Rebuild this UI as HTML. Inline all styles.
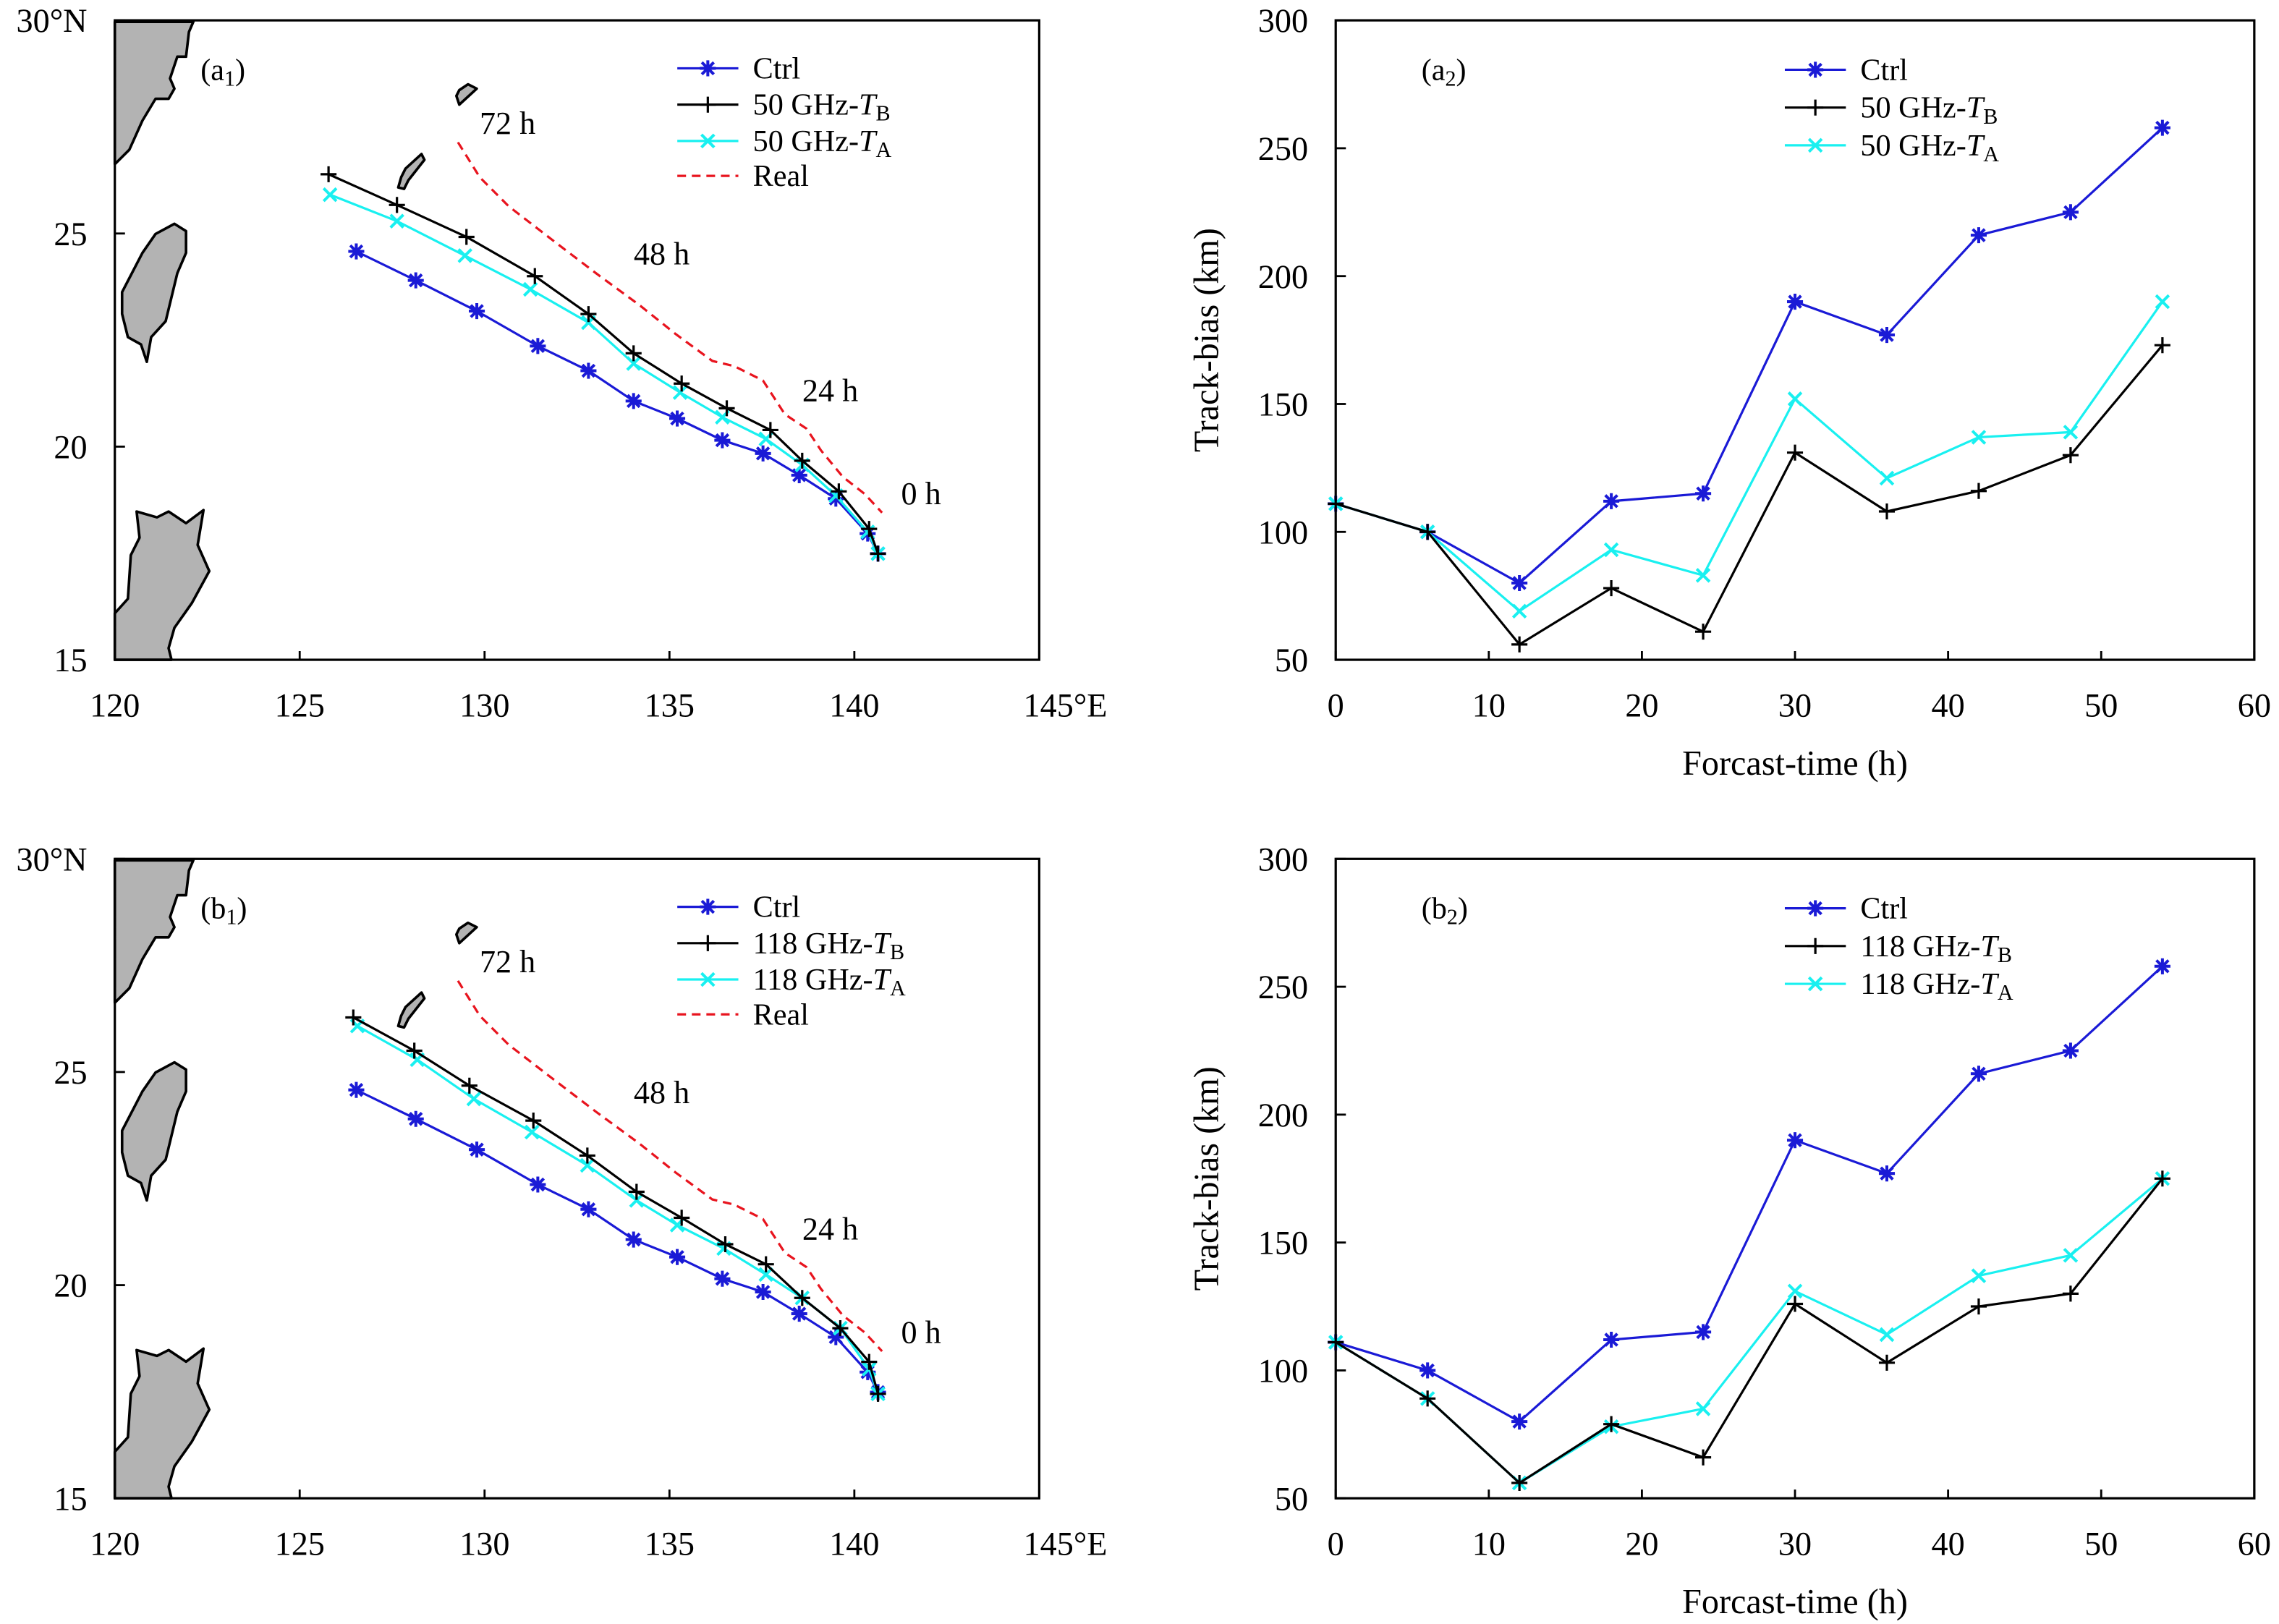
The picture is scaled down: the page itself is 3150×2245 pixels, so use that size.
<!DOCTYPE html>
<html><head><meta charset="utf-8"><style>
html,body{margin:0;padding:0;background:#fff}
svg{display:block}
text{font-family:"Liberation Serif",serif;fill:#000}
</style></head><body>
<svg id="fig" width="3150" height="2245" viewBox="0 0 1568 1117.5" xmlns="http://www.w3.org/2000/svg"></svg>
<script>
// ---- data ----
const hours=[0,6,12,18,24,30,36,42,48,54];
const biasCtrl=[111,100,80,112,115,190,177,216,225,258];
const bias50TB=[111,100,56,78,61,131,108,116,130,173];
const bias50TA=[111,100,69,93,83,152,121,137,139,190];
const bias118TB=[111,89,56,79,66,126,103,125,130,175];
const bias118TA=[111,89,56,78,85,131,114,137,145,175];
const biasTicks=[50,100,150,200,250,300];
const hourTicks=[0,10,20,30,40,50,60];
const lonTicks=["120","125","130","135","140","145°E"];
const lonTickVals=[120,125,130,135,140,145];
const latTickVals=[15,20,25,30];
const latTickLabels=["15","20","25","30°N"];
const ctrlLon=[126.53,128.14,129.79,131.44,132.81,134.03,135.21,136.43,137.53,138.51,139.50,140.36,140.64];
const ctrlLat=[24.58,23.90,23.18,22.36,21.78,21.07,20.66,20.15,19.84,19.33,18.78,17.96,17.49];
const tb50Lon=[125.78,127.63,129.51,131.36,132.81,134.03,135.33,136.55,137.73,138.59,139.58,140.40,140.64];
const tb50Lat=[26.39,25.67,24.92,24.00,23.11,22.19,21.48,20.90,20.39,19.67,18.95,18.07,17.49];
const ta50Lon=[125.82,127.63,129.47,131.24,132.81,134.03,135.29,136.43,137.61,138.59,139.50,140.36,140.64];
const ta50Lat=[25.91,25.29,24.48,23.69,22.91,21.95,21.27,20.69,20.18,19.57,18.85,18.00,17.49];
const realLon=[129.28,129.87,130.65,131.83,133.01,134.19,135.17,136.16,136.75,137.53,138.12,138.71,139.10,139.69,140.28,140.75];
const realLat=[27.14,26.32,25.64,24.85,24.07,23.32,22.64,22.01,21.89,21.55,20.76,20.42,19.91,19.29,18.89,18.45];
const tb118Lon=[126.45,128.10,129.59,131.32,132.78,134.11,135.33,136.51,137.61,138.59,139.62,140.40,140.64];
const tb118Lat=[26.28,25.50,24.68,23.86,23.04,22.19,21.58,20.96,20.49,19.70,18.99,18.20,17.45];
const ta118Lon=[126.56,128.18,129.71,131.28,132.78,134.11,135.21,136.47,137.61,138.59,139.62,140.40,140.64];
const ta118Lat=[26.08,25.29,24.37,23.59,22.81,21.99,21.41,20.86,20.25,19.70,18.99,18.03,17.45];

const BLUE="#1a1ad6",CYAN="#19f0f0",RED="#e8141e";
const NS="http://www.w3.org/2000/svg";
const svg=document.getElementById('fig');
function mk(tag,attrs,parent){const e=document.createElementNS(NS,tag);for(const k in attrs)e.setAttribute(k,attrs[k]);(parent||svg).appendChild(e);return e;}
function txt(x,y,s,anchor,size,parent){const t=mk('text',{x:x,y:y,'text-anchor':anchor||'start','font-size':size||23},parent);t.textContent=s;return t;}

function marker(g,type,x,y,color){
  const r=5.5;let d;
  if(type==='plus')d=`M${x-r} ${y}H${x+r}M${x} ${y-r}V${y+r}`;
  else if(type==='x')d=`M${x-r*.8} ${y-r*.8}L${x+r*.8} ${y+r*.8}M${x-r*.8} ${y+r*.8}L${x+r*.8} ${y-r*.8}`;
  else d=`M${x-r} ${y}H${x+r}M${x} ${y-r}V${y+r}M${x-r*.75} ${y-r*.75}L${x+r*.75} ${y+r*.75}M${x-r*.75} ${y+r*.75}L${x+r*.75} ${y-r*.75}`;
  const p=mk('path',{d:d,stroke:color,'stroke-width':type==='plus'?1.6:2,fill:'none'},g);
  
  
}
function series(g,xs,ys,fx,fy,color,type,name,dash){
  const s=mk('g',{},g);
  
  
  const pts=xs.map((v,i)=>fx(v).toFixed(2)+','+fy(ys[i]).toFixed(2)).join(' ');
  const l=mk('polyline',{points:pts,fill:'none',stroke:color,'stroke-width':1.6},s);
  if(dash)l.setAttribute('stroke-dasharray',dash);
  if(type)xs.forEach((v,i)=>marker(s,type,fx(v),fy(ys[i]),color));
}
function legendEntry(g,x,y,color,type,label,sub,dash){
  const e=mk('g',{},g);
  
  
  const l=mk('line',{x1:x,y1:y,x2:x+42,y2:y,stroke:color,'stroke-width':1.6},e);
  if(dash)l.setAttribute('stroke-dasharray',dash);
  if(type)marker(e,type,x+21,y,color);
  const t=txt(x+52,y+7,'',null,21,e);
  t.appendChild(document.createTextNode(label));
  if(sub){const it=mk('tspan',{'font-style':'italic'},t);it.textContent=sub[0];const sb=mk('tspan',{'font-size':15,dy:4},t);sb.textContent=sub[1];}
}
function panelLabel(g,x,y,l,n){const t=txt(x,y,'(',null,21,g);const a=mk('tspan',{},t);a.textContent=l;const s=mk('tspan',{'font-size':15,dy:4},t);s.textContent=n;const c=mk('tspan',{dy:-4},t);c.textContent=')';
  }

// ---------- map panel ----------
function mapPanel(top,name,tbLon,tbLat,taLon,taLat,freq,lab){
  const L=79,R=715,T=top,B=top+440;
  const fx=v=>L+(v-120)/25*(R-L), fy=v=>T+(30-v)/15*(B-T);
  const g=mk('g',{});
  
  
  const land=mk('g',{fill:'#b3b3b3',stroke:'#000','stroke-width':1.8,'stroke-linejoin':'round'},g);
  
  
  const o=top-14;
  const polys=[
   [[79,15],[133,15],[130,22],[128,39],[122,39],[117,54],[120,61],[116,68],[107,68],[98,83],[89,103],[79,113]],
   [[120,154],[128,159],[128,174],[122,188],[114,221],[104,232],[101,249],[97,237],[88,232],[84,216],[84,201],[98,174],[107,161]],
   [[316,62],[322,58],[328,61],[316,72],[314,66]],
   [[290,106],[292,110],[281,124],[278,130],[274,129],[276,122],[279,116]],
   [[79,454],[79,422],[88,412],[90,382],[96,370],[94,352],[108,356],[116,352],[128,360],[140,351],[136,375],[144,393],[132,415],[120,432],[116,446],[118,454]]];
  polys.forEach(p=>mk('polygon',{points:p.map(q=>q[0]+','+(q[1]+o)).join(' ')},land));
  mk('rect',{x:L,y:T,width:R-L,height:B-T,fill:'none',stroke:'#000','stroke-width':1.6},g);
  lonTickVals.forEach((v,i)=>{mk('line',{x1:fx(v),y1:B,x2:fx(v),y2:B-6,stroke:'#000','stroke-width':1.4},g);
    const t=txt(fx(v)+(i==5?18:0),B+39,lonTicks[i],'middle',23,g);});
  latTickVals.forEach((v,i)=>{mk('line',{x1:L,y1:fy(v),x2:L+7,y2:fy(v),stroke:'#000','stroke-width':1.4},g);
    const t=txt(60,fy(v)+8,latTickLabels[i],'end',23,g);});
  series(g,realLon,realLat,fx,fy,RED,null,'real-track','6,4');
  series(g,ctrlLon,ctrlLat,fx,fy,BLUE,'star','ctrl-track');
  series(g,taLon,taLat,fx,fy,CYAN,'x','ta-track');
  series(g,tbLon,tbLat,fx,fy,'#000','plus','tb-track');
  [['72 h',330,T+78],['48 h',436,T+168],['24 h',552,T+262],['0 h',620,T+333]].forEach(a=>{const t=txt(a[1],a[2],a[0],null,22,g);});
  panelLabel(g,138,T+41,lab,'1');
  const lg=mk('g',{},g);
  legendEntry(lg,466,T+33,BLUE,'star','Ctrl');
  legendEntry(lg,466,T+58,'#000','plus',freq+' GHz-',['T','B']);
  legendEntry(lg,466,T+83,CYAN,'x',freq+' GHz-',['T','A']);
  legendEntry(lg,466,T+107,RED,null,'Real',null,'6,4');
}
// ---------- bias panel ----------
function biasPanel(top,name,tb,ta,freq,lab){
  const L=919,R=1551,T=top,B=top+440;
  const fx=v=>L+v/60*(R-L), fy=v=>B-(v-50)/250*(B-T);
  const g=mk('g',{});
  
  
  mk('rect',{x:L,y:T,width:R-L,height:B-T,fill:'none',stroke:'#000','stroke-width':1.6},g);
  hourTicks.forEach(v=>{mk('line',{x1:fx(v),y1:B,x2:fx(v),y2:B-6,stroke:'#000','stroke-width':1.4},g);
    const t=txt(fx(v),B+39,String(v),'middle',23,g);});
  biasTicks.forEach(v=>{mk('line',{x1:L,y1:fy(v),x2:L+7,y2:fy(v),stroke:'#000','stroke-width':1.4},g);
    const t=txt(900,fy(v)+8,String(v),'end',23,g);});
  const yt=txt(0,0,'Track-bias (km)','middle',24,g);yt.setAttribute('transform',`translate(838,${(T+B)/2}) rotate(-90)`);
  
  const xt=txt(1235,B+79,'Forcast-time (h)','middle',24,g);
  series(g,hours,biasCtrl,fx,fy,BLUE,'star','ctrl-bias');
  series(g,hours,ta,fx,fy,CYAN,'x','ta-bias');
  series(g,hours,tb,fx,fy,'#000','plus','tb-bias');
  panelLabel(g,978,T+41,lab,'2');
  const lg=mk('g',{},g);
  legendEntry(lg,1228,T+34,BLUE,'star','Ctrl');
  legendEntry(lg,1228,T+60,'#000','plus',freq+' GHz-',['T','B']);
  legendEntry(lg,1228,T+86,CYAN,'x',freq+' GHz-',['T','A']);
}
mapPanel(14,'map-panel-a1',tb50Lon,tb50Lat,ta50Lon,ta50Lat,'50','a');
biasPanel(14,'bias-panel-a2',bias50TB,bias50TA,'50','a');
mapPanel(591,'map-panel-b1',tb118Lon,tb118Lat,ta118Lon,ta118Lat,'118','b');
biasPanel(591,'bias-panel-b2',bias118TB,bias118TA,'118','b');
</script>
</body></html>
